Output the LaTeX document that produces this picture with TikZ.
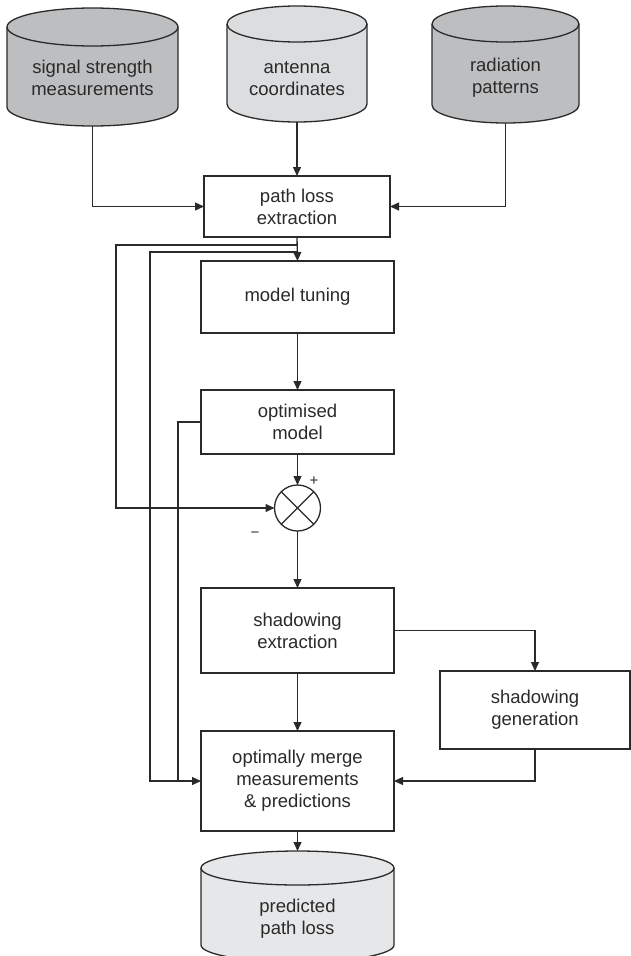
\documentclass[tikz,border=0pt]{standalone}
\usepackage{fontspec}
\setmainfont{Liberation Sans}
\usetikzlibrary{arrows.meta,calc}
\definecolor{ln}{HTML}{2A2A2A}
\definecolor{cdark}{HTML}{BDBEC0}
\definecolor{clight}{HTML}{DCDDDF}
\definecolor{cpale}{HTML}{E6E7E8}
\newcommand\dfont{\fontsize{18.5}{22}\selectfont}
\newcommand\sfont{\fontsize{15}{16}\selectfont}
\begin{document}
\begin{tikzpicture}[x=1pt,y=1pt,line width=1.3pt,color=ln,
  box/.style={draw,fill=white,inner sep=0pt,outer sep=0pt,align=center,font=\dfont},
  lbl/.style={align=center,inner sep=0pt,font=\dfont},
  sgn/.style={inner sep=0pt,font=\sfont},
  arr/.style={-{Triangle[length=9pt,width=8pt]}},
  cyl/.style={draw}]
\useasboundingbox (0,0) rectangle (630,-956);

% ---- top cylinders ----
\path[cyl,fill=cdark] (7,-27) -- (7,-107) arc[start angle=180,end angle=360,x radius=85.5pt,y radius=19pt]
  -- (178,-27) arc[start angle=0,end angle=180,x radius=85.5pt,y radius=19pt] -- cycle;
\draw (7,-27) arc[start angle=180,end angle=360,x radius=85.5pt,y radius=19pt];
\node[lbl] (sig) at (92.5,-78) {signal strength\\measurements};
\coordinate (sigb) at (92.5,-126);

\path[cyl,fill=clight] (227,-24) -- (227,-104) arc[start angle=180,end angle=360,x radius=70pt,y radius=18pt]
  -- (367,-24) arc[start angle=0,end angle=180,x radius=70pt,y radius=18pt] -- cycle;
\draw (227,-24) arc[start angle=180,end angle=360,x radius=70pt,y radius=18pt];
\node[lbl] (ant) at (297,-79) {antenna\\coordinates};
\coordinate (antb) at (297,-122);

\path[cyl,fill=cdark] (432,-24) -- (432,-105) arc[start angle=180,end angle=360,x radius=73.5pt,y radius=18pt]
  -- (579,-24) arc[start angle=0,end angle=180,x radius=73.5pt,y radius=18pt] -- cycle;
\draw (432,-24) arc[start angle=180,end angle=360,x radius=73.5pt,y radius=18pt];
\node[lbl] (rad) at (505.5,-78) {radiation\\patterns};
\coordinate (radb) at (505.5,-123);

% ---- boxes ----
\node[box,minimum width=186pt,minimum height=61pt] (pl) at (297,-206.5) {path loss\\extraction};
\node[box,minimum width=193pt,minimum height=72pt] (mt) at (297.5,-297) {model tuning};
\node[box,minimum width=193pt,minimum height=64pt] (om) at (297.5,-422) {optimised\\model};
\node[draw,circle,fill=white,minimum size=46pt,inner sep=0pt,outer sep=0pt] (sum) at (297.5,-508) {};
\draw (sum.north west) -- (sum.south east) (sum.north east) -- (sum.south west);
\node[sgn] (plus) at (314,-481) {+};
\node[sgn] (minus) at (255,-535) {−};
\node[box,minimum width=193pt,minimum height=85pt] (se) at (297.5,-630.5) {shadowing\\extraction};
\node[box,minimum width=190pt,minimum height=78pt] (sg) at (535,-710) {shadowing\\generation};
\node[box,minimum width=193pt,minimum height=100pt] (mg) at (297.5,-781) {optimally merge\\measurements\\\& predictions};

% ---- bottom cylinder ----
\path[cyl,fill=cpale] (201,-868) -- (201,-945) arc[start angle=180,end angle=360,x radius=96.5pt,y radius=17pt]
  -- (394,-868) arc[start angle=0,end angle=180,x radius=96.5pt,y radius=17pt] -- cycle;
\draw (201,-868) arc[start angle=180,end angle=360,x radius=96.5pt,y radius=17pt];
\node[lbl] (pred) at (297.5,-919) {predicted\\path loss};
\coordinate (predt) at (297.5,-851);

% ---- connectors ----
\draw[arr] (sigb) |- (pl.west);
\draw[arr] (antb) -- (pl.north);
\draw[arr] (radb) |- (pl.east);
\draw[arr] (pl.south) -- (mt.north);
\coordinate (j1) at ($(pl.south)+(0,-8)$);
\coordinate (j2) at ($(pl.south)+(0,-15)$);
\coordinate (fa) at (116,-245);
\coordinate (fb) at (150,-252);
\coordinate (fc) at (178,-781);
\draw[arr] (j1) -- (fa) |- (sum.west);
\draw[arr] (j2) -- (fb) |- (mg.west);
\draw (om.west) -| (fc);
\draw[arr] (mt.south) -- (om.north);
\draw[arr] (om.south) -- (sum.north);
\draw[arr] (sum.south) -- (se.north);
\draw[arr] (se.east) -| (sg.north);
\draw[arr] (sg.south) |- (mg.east);
\draw[arr] (se.south) -- (mg.north);
\draw[arr] (mg.south) -- (predt);
\end{tikzpicture}
\end{document}
